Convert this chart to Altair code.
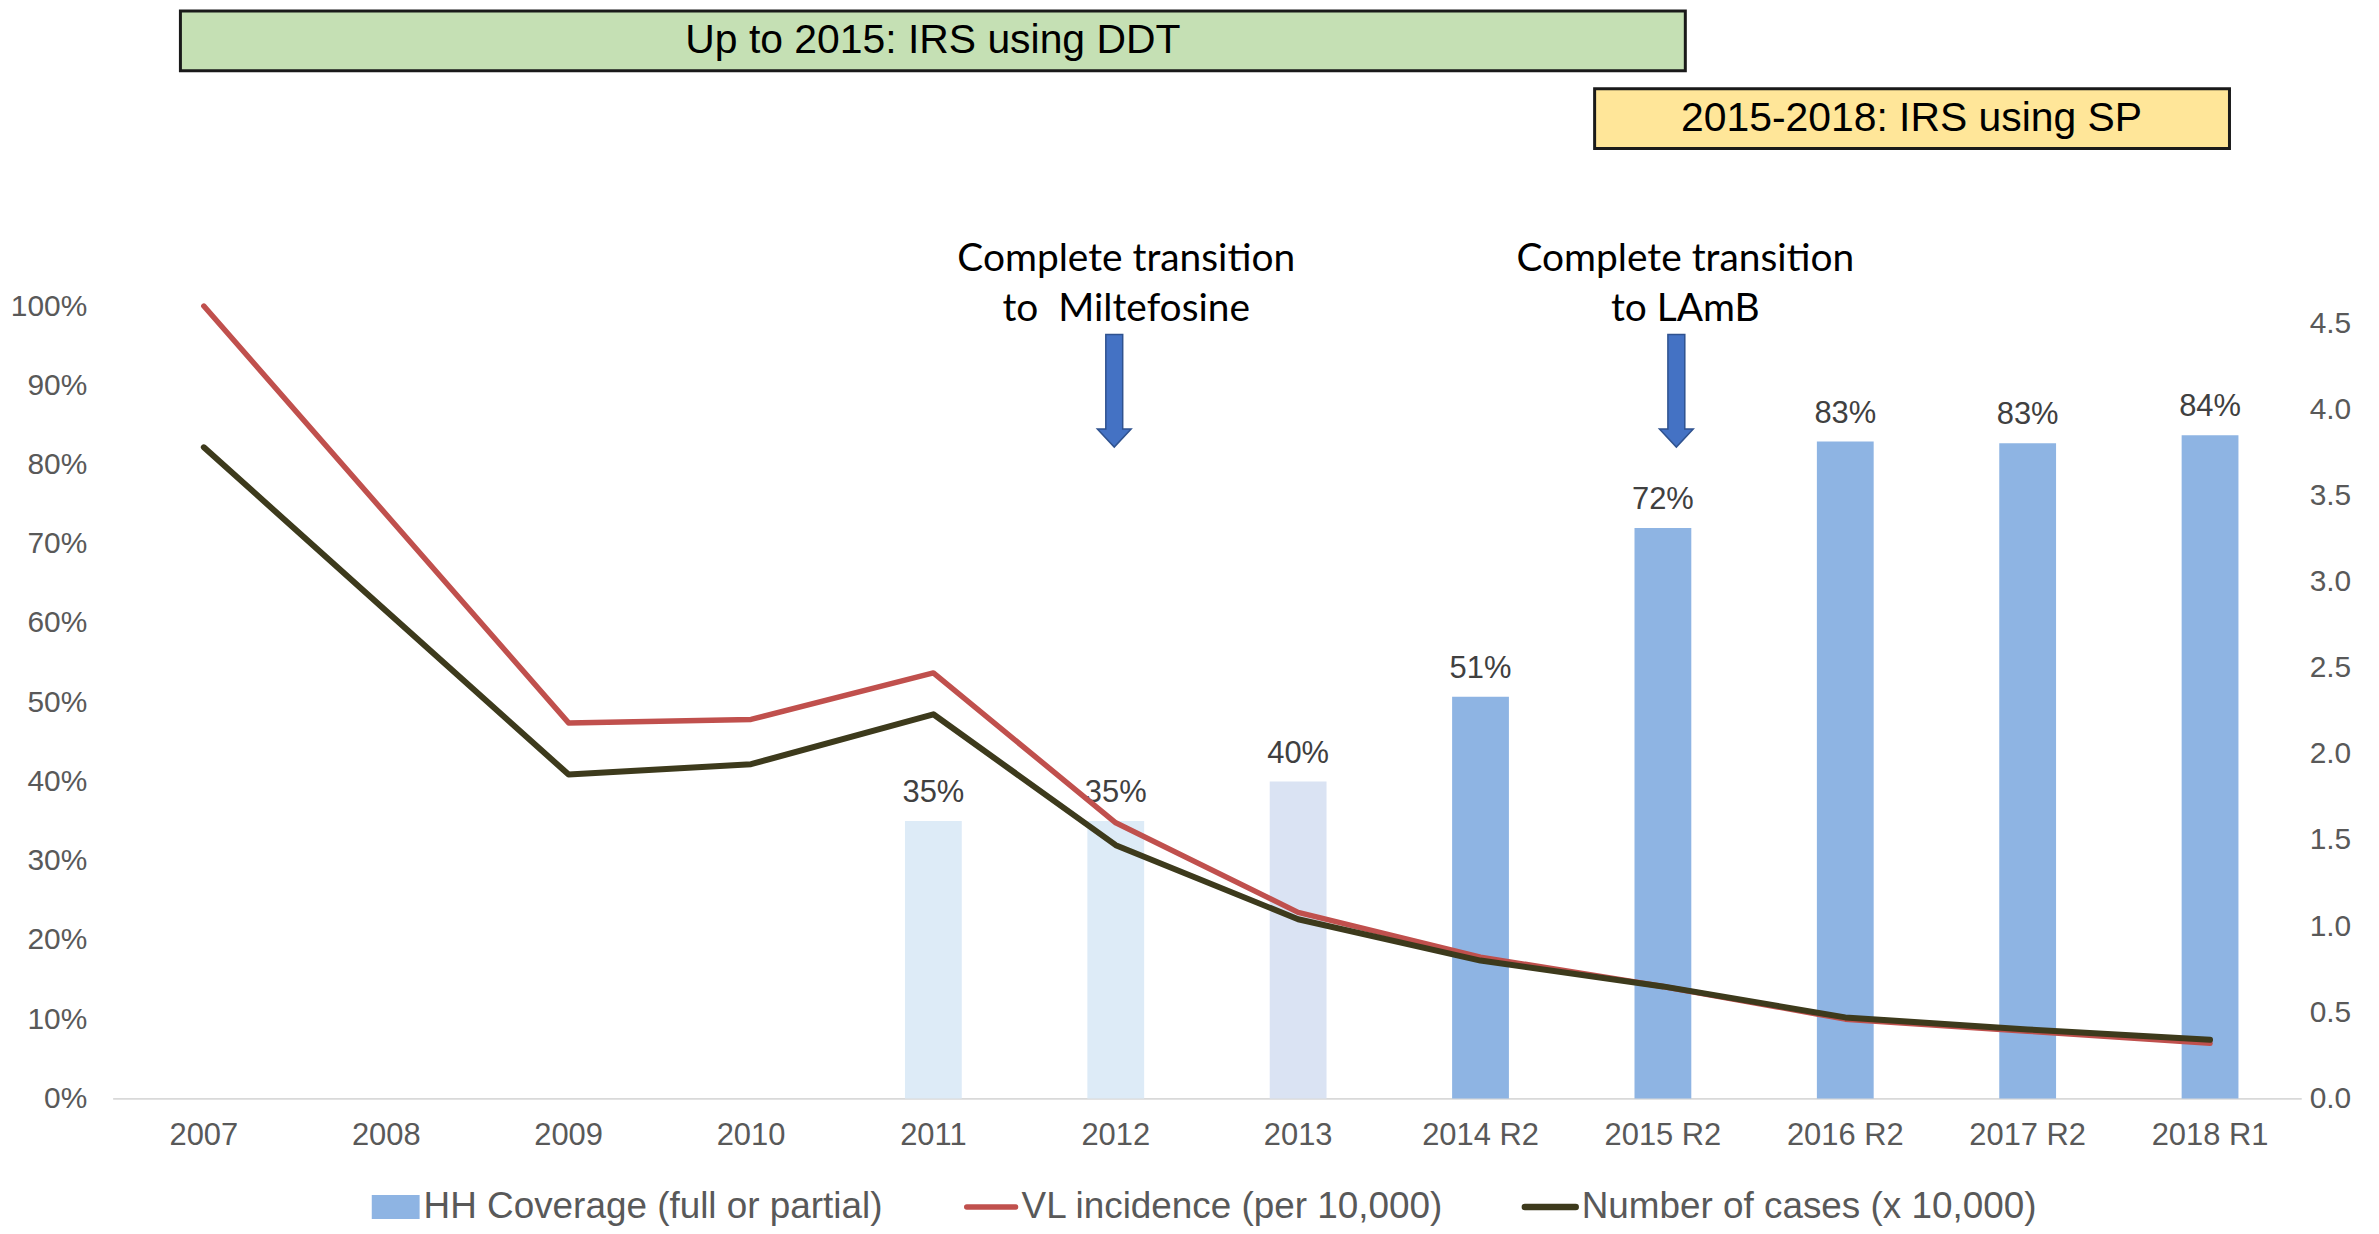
import altair as alt
import pandas as pd

# ---------------- data ----------------
cats = ["2007", "2008", "2009", "2010", "2011", "2012", "2013",
        "2014 R2", "2015 R2", "2016 R2", "2017 R2", "2018 R1"]
coverage = [None, None, None, None, 0.35, 0.35, 0.40, 0.507, 0.72, 0.829, 0.827, 0.837]
vl_incidence = [4.60, 3.39, 2.18, 2.20, 2.47, 1.60, 1.08, 0.82, 0.65, 0.46, 0.39, 0.32]
num_cases = [3.78, 2.83, 1.88, 1.94, 2.23, 1.47, 1.04, 0.80, 0.65, 0.47, 0.40, 0.34]
left_ticks = [0, 0.1, 0.2, 0.3, 0.4, 0.5, 0.6, 0.7, 0.8, 0.9, 1.0]
right_ticks = [0, 0.5, 1.0, 1.5, 2.0, 2.5, 3.0, 3.5, 4.0, 4.5]
legend_labels = ["HH Coverage (full or partial)", "VL incidence (per 10,000)",
                 "Number of cases (x 10,000)"]
box_texts = ["Up to 2015: IRS using DDT", "2015-2018: IRS using SP"]
note1 = ["Complete transition", "to\u00a0 Miltefosine"]
note2 = ["Complete transition", "to LAmB"]

# ---------------- layout / style ----------------
W, H = 2196, 1092
L_MAX = 1.3736            # left axis: 100% sits below the annotation band
R_MAX = 4.6 * L_MAX       # right axis tops at 4.6 at the same height
FONT = "Liberation Sans, Arial, sans-serif"
NOTE_FONT = "Lato, Open Sans, sans-serif"
GREY = "#595959"
BAR_MAIN = "#8EB4E3"
light = {"2011": "#DDEBF7", "2012": "#DDEBF7", "2013": "#DAE3F3"}
RED = "#C0504D"
DARK = "#3D3A1C"

bar_df = pd.DataFrame({"cat": cats, "cov": coverage}).dropna().reset_index(drop=True)
bar_df["fill"] = [light.get(c, BAR_MAIN) for c in bar_df["cat"]]
line_df = pd.DataFrame({"cat": cats, "vl": vl_incidence, "cases": num_cases,
                        "idx": list(range(len(cats)))})

xenc = alt.X("cat:N", sort=cats,
             scale=alt.Scale(domain=cats, paddingInner=0, paddingOuter=0),
             axis=alt.Axis(title=None, labelAngle=0, labelFont=FONT, labelFontSize=31,
                           labelColor=GREY, labelPadding=22, ticks=False,
                           domainColor="#D9D9D9", domainWidth=2, grid=False))

yl = alt.Y("cov:Q", scale=alt.Scale(domain=[0, L_MAX], nice=False, zero=True),
           axis=alt.Axis(title=None, values=left_ticks, format=".0%", labelFont=FONT,
                         labelFontSize=30, labelColor=GREY, labelPadding=26,
                         ticks=False, domain=False, grid=False))

bars = alt.Chart(bar_df).mark_bar(size=57).encode(
    x=xenc, y=yl, color=alt.Color("fill:N", scale=None))
bar_labels = alt.Chart(bar_df).mark_text(
    baseline="middle", dy=-28, font=FONT, fontSize=31, color="#404040").encode(
    x=xenc, y=yl, text=alt.Text("cov:Q", format=".0%"))

yr_scale = alt.Scale(domain=[0, R_MAX], nice=False, zero=True)
yr_axis = alt.Axis(title=None, orient="right", values=right_ticks, format=".1f",
                   labelFont=FONT, labelFontSize=30, labelColor=GREY, labelPadding=8,
                   ticks=False, domain=False, grid=False)

red_line = alt.Chart(line_df).mark_line(
    color=RED, strokeWidth=5.5, strokeCap="round", strokeJoin="round").encode(
    x=xenc, y=alt.Y("vl:Q", scale=yr_scale, axis=yr_axis), order="idx:Q")
dark_line = alt.Chart(line_df).mark_line(
    color=DARK, strokeWidth=6, strokeCap="round", strokeJoin="round").encode(
    x=xenc, y=alt.Y("cases:Q", scale=yr_scale, axis=yr_axis), order="idx:Q")


def one():
    return pd.DataFrame({"k": [0]})


def text_at(txt, x, y, size, font=FONT, color="black", align="center"):
    return alt.Chart(pd.DataFrame({"t": [txt]})).mark_text(
        font=font, fontSize=size, color=color, align=align, baseline="middle").encode(
        text="t:N", x=alt.value(x), y=alt.value(y))


def box(x1, x2, y1, y2, fill):
    return alt.Chart(one()).mark_rect(fill=fill, stroke="#1A1A1A", strokeWidth=3).encode(
        x=alt.value(x1), x2=alt.value(x2), y=alt.value(y1), y2=alt.value(y2))


ARROW = "M -0.15 -1 L 0.15 -1 L 0.15 0.68 L 0.3 0.68 L 0 1 L -0.3 0.68 L -0.15 0.68 Z"


def arrow(x, y):
    return alt.Chart(one()).mark_point(
        shape=ARROW, size=12769, filled=True, fill="#4472C4", stroke="#2F528F",
        strokeWidth=1.5, opacity=1).encode(x=alt.value(x), y=alt.value(y))


annotations = [
    box(68, 1578, 1, 61, "#C5E0B4"),
    text_at(box_texts[0], 823, 31, 41),
    box(1487, 2124, 79, 139, "#FFE699"),
    text_at(box_texts[1], 1805, 109, 41),
    text_at(note1[0], 1017, 250, 39, font=NOTE_FONT),
    text_at(note1[1], 1017, 300, 39, font=NOTE_FONT),
    text_at(note2[0], 1578, 250, 39, font=NOTE_FONT),
    text_at(note2[1], 1578, 300, 39, font=NOTE_FONT),
    arrow(1005, 382),
    arrow(1569, 382),
]

LEG_Y = 1201
legend = [
    alt.Chart(one()).mark_rect(fill=BAR_MAIN).encode(
        x=alt.value(260), x2=alt.value(308), y=alt.value(LEG_Y - 12), y2=alt.value(LEG_Y + 12)),
    text_at(legend_labels[0], 312, LEG_Y, 37, color=GREY, align="left"),
    alt.Chart(one()).mark_rule(color=RED, strokeWidth=5.5, strokeCap="round").encode(
        x=alt.value(857), x2=alt.value(906), y=alt.value(LEG_Y)),
    text_at(legend_labels[1], 912, LEG_Y, 37, color=GREY, align="left"),
    alt.Chart(one()).mark_rule(color=DARK, strokeWidth=6.5, strokeCap="round").encode(
        x=alt.value(1417), x2=alt.value(1468), y=alt.value(LEG_Y)),
    text_at(legend_labels[2], 1474, LEG_Y, 37, color=GREY, align="left"),
]

left = alt.layer(bars, bar_labels)
right = alt.layer(red_line, dark_line)

chart = alt.layer(left, right, *annotations, *legend).resolve_scale(
    y="independent").properties(
    width=W, height=H,
    padding={"left": 105, "top": 0, "right": 70, "bottom": 130},
    autosize=alt.AutoSizeParams(type="none"),
    background="white",
).configure_view(strokeWidth=0)

chart.save("out.html", embed_options={"renderer": "svg", "actions": False})
